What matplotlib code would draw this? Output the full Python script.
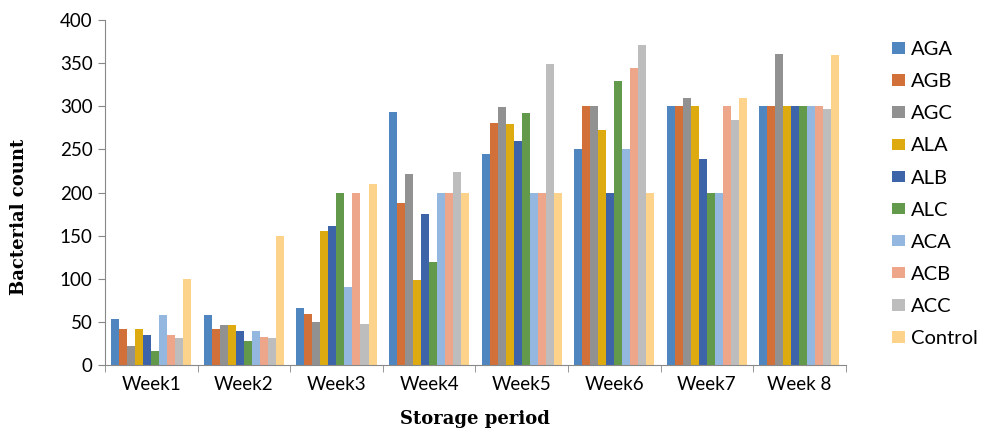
"""Bacterial count over storage period, grouped bars per treatment."""

import matplotlib
import matplotlib.pyplot as plt
import numpy as np

matplotlib.rcParams["font.family"] = "Lato"

weeks = ["Week1", "Week2", "Week3", "Week4", "Week5", "Week6", "Week7", "Week 8"]
treatments = ["AGA", "AGB", "AGC", "ALA", "ALB", "ALC", "ACA", "ACB", "ACC", "Control"]

AGA = [54, 58, 66, 293, 245, 251, 300, 300]
AGB = [42, 42, 59, 188, 281, 300, 300, 300]
AGC = [22, 46, 50, 221, 299, 300, 310, 361]
ALA = [42, 46, 155, 99, 279, 272, 300, 300]
ALB = [35, 40, 161, 175, 260, 200, 239, 300]
ALC = [16, 28, 200, 120, 292, 329, 200, 300]
ACA = [58, 39, 90, 200, 200, 251, 200, 300]
ACB = [35, 33, 200, 200, 200, 344, 300, 300]
ACC = [31, 32, 48, 224, 349, 371, 284, 297]
Control = [100, 150, 210, 200, 200, 200, 310, 359]

series = [AGA, AGB, AGC, ALA, ALB, ALC, ACA, ACB, ACC, Control]
colors = ["#4f86c0", "#d2703a", "#919191", "#ddaa10", "#3d64a8",
          "#63994a", "#94b7e0", "#eea68b", "#bdbdbd", "#fdd28a"]

fig = plt.figure(figsize=(9.95, 4.41), dpi=100)
ax = fig.add_axes([0.1055, 0.172, 0.7445, 0.7826])

n = len(treatments)
group_w = 0.865
bar_w = group_w / n
x = np.arange(len(weeks))
for i, (name, vals) in enumerate(zip(treatments, series)):
    ax.bar(x - group_w / 2 + bar_w * (i + 0.5), vals, width=bar_w,
           color=colors[i], label=name, linewidth=0)

ax.set_xlim(-0.5, len(weeks) - 0.5)
ax.set_ylim(0, 400)
ax.set_yticks(range(0, 401, 50))
ax.set_xticks(x)
ax.set_xticklabels(weeks)
ax.set_xticks(np.arange(-0.5, len(weeks), 1), minor=True)
ax.tick_params(axis="x", which="major", length=0, labelsize=13.5, pad=8)
ax.tick_params(axis="x", which="minor", length=5, color="#888888")
ax.tick_params(axis="y", length=5, color="#888888", labelsize=13.5, pad=4)

for side in ["top", "right"]:
    ax.spines[side].set_visible(False)
for side in ["left", "bottom"]:
    ax.spines[side].set_color("#888888")

ax.set_ylabel("Bacterial count", fontfamily="DejaVu Serif", fontweight="bold",
              fontsize=13)
ax.yaxis.set_label_coords(-0.104, 0.43)
ax.set_xlabel("Storage period", fontfamily="DejaVu Serif", fontweight="bold",
              fontsize=13)
ax.xaxis.set_label_coords(0.5, -0.13)

fig.legend(loc="upper left", bbox_to_anchor=(0.888, 0.925), frameon=False,
           fontsize=14.5, handlelength=0.65, handleheight=0.5, handletextpad=0.3,
           labelspacing=0.75, borderaxespad=0)

fig.savefig("out.png", dpi=100)
